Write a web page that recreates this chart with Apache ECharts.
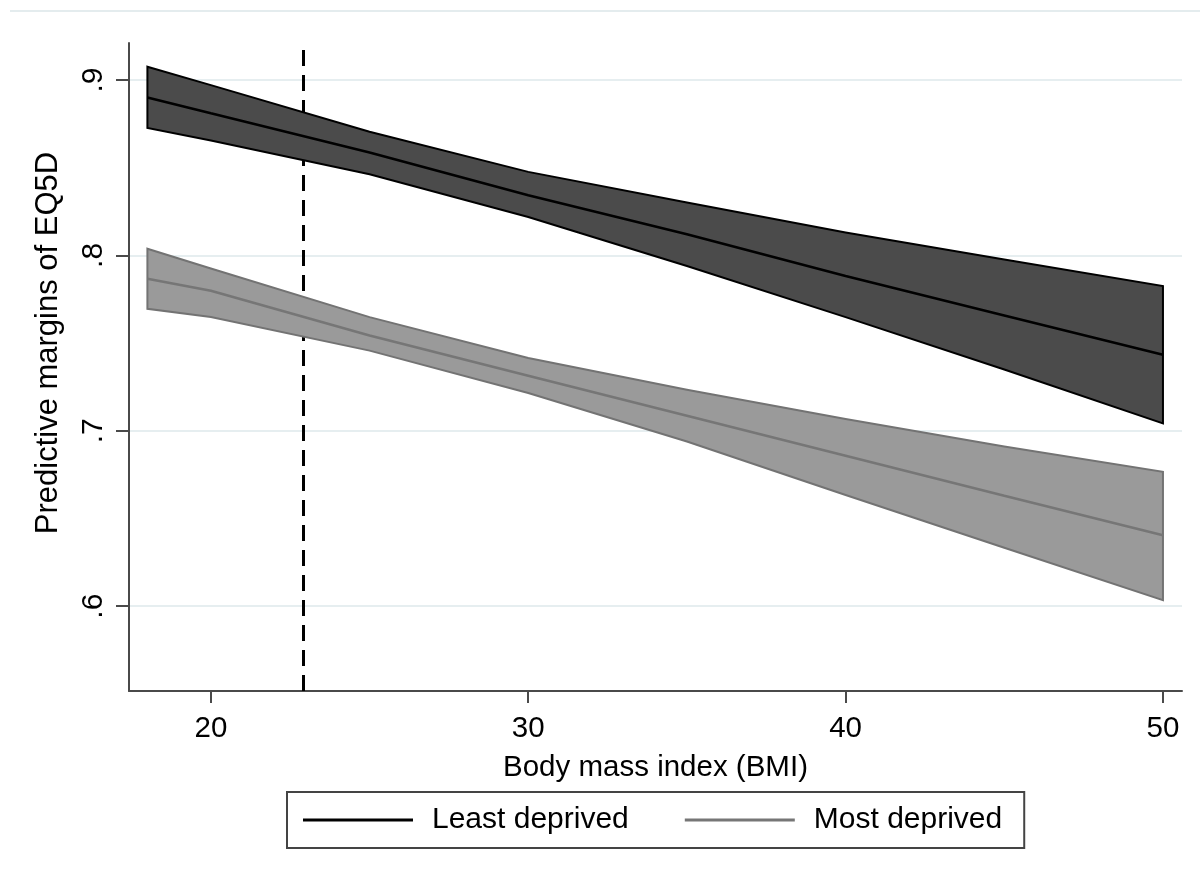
<!DOCTYPE html>
<html>
<head>
<meta charset="utf-8">
<script src="https://cdn.jsdelivr.net/npm/echarts@6/dist/echarts.min.js"></script>
<style>
html,body{margin:0;padding:0;background:#fff;}
#chart{width:1200px;height:881px;}
</style>
</head>
<body>
<div id="chart"></div>
<script>
// ---- data ----
const bmi = [18, 20, 25, 30, 35, 40, 45, 50];
const leastMean  = [0.890, 0.881, 0.8587, 0.8343, 0.812, 0.7882, 0.7657, 0.7433];
const leastLower = [0.8727, 0.8655, 0.8463, 0.8219, 0.7939, 0.7648, 0.7349, 0.7042];
const leastUpper = [0.9076, 0.8971, 0.8705, 0.8476, 0.8301, 0.813, 0.7977, 0.7825];
const mostMean   = [0.7867, 0.7798, 0.7543, 0.7314, 0.7086, 0.6857, 0.6629, 0.6404];
const mostLower  = [0.7695, 0.7648, 0.7457, 0.7215, 0.6939, 0.6634, 0.6333, 0.6034];
const mostUpper  = [0.8038, 0.7925, 0.7648, 0.7415, 0.7234, 0.7067, 0.691, 0.6766];
const xTicks = [20, 30, 40, 50];
const yTicks = [0.6, 0.7, 0.8, 0.9];
const yTickLabels = ['.6', '.7', '.8', '.9'];
const refBMI = 22.9;
const seriesNames = ['Least deprived', 'Most deprived'];

const FONT = '"Liberation Sans", Arial, sans-serif';

function band(name, lo, hi, fill, stroke) {
  return {
    type: 'custom',
    name: name + ' CI',
    silent: true,
    data: bmi.map((x, i) => [x, lo[i], hi[i]]),
    encode: { x: 0, y: [1, 2] },
    renderItem: function (params, api) {
      if (params.dataIndex !== 0) return;
      const pts = [];
      for (let i = 0; i < bmi.length; i++) pts.push(api.coord([bmi[i], hi[i]]));
      for (let i = bmi.length - 1; i >= 0; i--) pts.push(api.coord([bmi[i], lo[i]]));
      return {
        type: 'polygon',
        shape: { points: pts },
        style: { fill: fill, stroke: stroke, lineWidth: 2, lineJoin: 'miter' }
      };
    }
  };
}

const chart = echarts.init(document.getElementById('chart'));
chart.setOption({
  animation: false,
  backgroundColor: '#ffffff',
  textStyle: { fontFamily: FONT },
  graphic: [{
    type: 'line',
    shape: { x1: 10, y1: 11, x2: 1200, y2: 11 },
    style: { stroke: '#e4ecee', lineWidth: 2 },
    silent: true
  }],
  grid: { left: 129, right: 18, top: 43, bottom: 190, containLabel: false },
  xAxis: {
    type: 'value',
    min: 17.42,
    max: 50.6,
    name: 'Body mass index (BMI)',
    nameLocation: 'middle',
    nameGap: 62,
    nameTextStyle: { fontSize: 29.5, color: '#000', fontFamily: FONT },
    axisLine: { show: true, onZero: false, lineStyle: { color: '#4a4a4a', width: 2 } },
    axisTick: { show: true, length: 12, customValues: xTicks, lineStyle: { color: '#4a4a4a', width: 2 } },
    axisLabel: { customValues: xTicks, fontSize: 29.5, color: '#000', margin: 23, fontFamily: FONT },
    splitLine: { show: false }
  },
  yAxis: {
    type: 'value',
    min: 0.5516,
    max: 0.9211,
    name: 'Predictive margins of EQ5D',
    nameLocation: 'middle',
    nameGap: 65,
    nameRotate: 90,
    nameTextStyle: { fontSize: 31, color: '#000', fontFamily: FONT, padding: [0, 0, 0, 48] },
    axisLine: { show: true, onZero: false, lineStyle: { color: '#4a4a4a', width: 2 } },
    axisTick: { show: true, length: 13, customValues: yTicks, lineStyle: { color: '#4a4a4a', width: 2 } },
    axisLabel: {
      customValues: yTicks,
      rotate: 90,
      fontSize: 30,
      color: '#000',
      margin: 20,
      fontFamily: FONT,
      formatter: function (v) {
        const i = yTicks.findIndex(t => Math.abs(t - v) < 1e-9);
        return i >= 0 ? yTickLabels[i] : '';
      }
    },
    splitLine: { show: true, lineStyle: { color: '#e6eef0', width: 2 } }
  },
  legend: {
    data: seriesNames,
    left: 287,
    top: 792,
    orient: 'horizontal',
    padding: [13, 22, 13, 16],
    borderColor: '#444444',
    borderWidth: 2,
    itemWidth: 110,
    itemHeight: 3,
    itemGap: 56,
    icon: 'rect',
    textStyle: { fontSize: 30, color: '#000', fontFamily: FONT, padding: [0, 0, 0, 14] },
    selectedMode: false
  },
  series: [
    band(seriesNames[0], leastLower, leastUpper, '#4b4b4b', '#000000'),
    {
      type: 'line',
      name: seriesNames[0],
      data: bmi.map((x, i) => [x, leastMean[i]]),
      symbol: 'none',
      color: '#000000',
      itemStyle: { color: '#000000' },
      lineStyle: { color: '#000000', width: 2.5 },
      markLine: {
        silent: true,
        symbol: 'none',
        z: 1,
        label: { show: false },
        lineStyle: { color: '#000000', width: 3, type: [16, 9] },
        data: [{ xAxis: refBMI }]
      }
    },
    band(seriesNames[1], mostLower, mostUpper, '#9a9a9a', '#737373'),
    {
      type: 'line',
      name: seriesNames[1],
      data: bmi.map((x, i) => [x, mostMean[i]]),
      symbol: 'none',
      color: '#767676',
      itemStyle: { color: '#767676' },
      lineStyle: { color: '#767676', width: 2.5 }
    }
  ]
});
</script>
</body>
</html>
